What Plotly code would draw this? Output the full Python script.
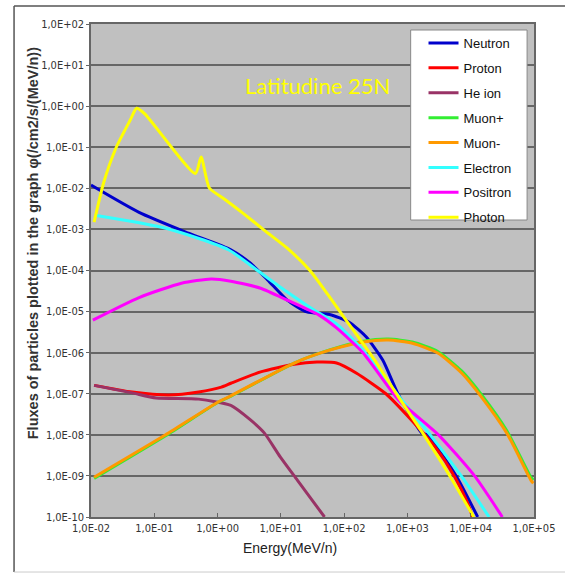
import plotly.graph_objects as go

# Energy (MeV/n) and flux (/cm2/s/(MeV/n)) for each particle species
neutron_e = [0.01, 0.0575, 0.347, 1.62, 3.31, 6.17, 12.6, 25.7, 58.9, 120, 224, 407, 724, 1700, 2040, 5890, 12900]
neutron_f = [1.2e-2, 2.6e-3, 8.1e-4, 3.2e-4, 1.5e-4, 5.9e-5, 1.9e-5, 9.8e-6, 8.5e-6, 5.5e-6, 2.4e-6, 6.6e-7, 9.3e-8, 1.1e-8, 1.0e-8, 1.0e-9, 1.0e-10]

proton_e = [0.0112, 0.0447, 0.17, 0.501, 1.15, 1.62, 4.79, 16.2, 37.2, 75.9, 155, 457, 1050, 2750, 5620, 8910, 10700]
proton_f = [1.6e-7, 1.1e-7, 9.3e-8, 1.1e-7, 1.45e-7, 1.8e-7, 3.4e-7, 5.2e-7, 5.9e-7, 5.6e-7, 3.2e-7, 1.0e-7, 2.7e-8, 5.0e-9, 9.3e-10, 2.2e-10, 1.0e-10]

he_e = [0.0112, 0.0447, 0.107, 0.501, 1.62, 3.31, 5.5, 9.77, 18.2, 49.0]
he_f = [1.6e-7, 1.05e-7, 7.9e-8, 7.4e-8, 5.2e-8, 2.3e-8, 1.1e-8, 2.9e-9, 7.9e-10, 1.0e-10]

muon_e = [0.0112, 0.151, 1.02, 1.48, 16.2, 58.9, 200, 501, 1200, 3020, 7240, 14800, 37200, 89100, 97700]
muon_plus_f = [8.7e-10, 9.5e-9, 6.2e-8, 8.1e-8, 5.6e-7, 1.17e-6, 1.9e-6, 2.14e-6, 1.82e-6, 1.07e-6, 3.55e-7, 9.5e-8, 1.26e-8, 9.3e-10, 7.9e-10]
muon_minus_f = [9.3e-10, 1.0e-8, 6.3e-8, 8.3e-8, 5.6e-7, 1.15e-6, 1.82e-6, 2.04e-6, 1.7e-6, 9.8e-7, 3.16e-7, 8.3e-8, 1.1e-8, 7.9e-10, 6.6e-10]

electron_e = [0.0115, 0.158, 1.48, 4.27, 12.6, 33.1, 75.9, 200, 724, 2290, 7080, 19500]
electron_f = [2.2e-3, 1.05e-3, 3.2e-4, 1.0e-4, 3.0e-5, 1.1e-5, 5.0e-6, 1.12e-6, 8.9e-8, 1.0e-8, 1.0e-9, 1.0e-10]

positron_e = [0.0107, 0.0575, 0.269, 0.794, 1.62, 4.79, 12.6, 40.7, 75.9, 200, 724, 3090, 11500, 31600]
positron_f = [6.2e-6, 2.2e-5, 4.9e-5, 6.2e-5, 5.5e-5, 3.7e-5, 1.9e-5, 8.1e-6, 4.0e-6, 9.8e-7, 7.1e-8, 1.0e-8, 1.0e-9, 1.0e-10]

photon_e = [0.0112, 0.0158, 0.0251, 0.0417, 0.0525, 0.0708, 0.447, 0.55, 0.741, 1.26, 2.51, 5.5, 12.6, 28.8, 56.2, 107, 282, 724, 1820, 4680, 11200]
photon_f = [1.5e-3, 1.35e-2, 0.1, 0.46, 0.89, 0.65, 2.3e-2, 5.8e-2, 1.02e-2, 5.6e-3, 2.5e-3, 9.5e-4, 3.5e-4, 1.0e-4, 2.5e-5, 6.2e-6, 7.8e-7, 8.3e-8, 1.0e-8, 1.0e-9, 1.0e-10]

series = [
    ("Neutron", neutron_e, neutron_f, "#0000CC"),
    ("Proton", proton_e, proton_f, "#FF0000"),
    ("He ion", he_e, he_f, "#993366"),
    ("Muon+", muon_e, muon_plus_f, "#33EE33"),
    ("Muon-", muon_e, muon_minus_f, "#FF9900"),
    ("Electron", electron_e, electron_f, "#33FFFF"),
    ("Positron", positron_e, positron_f, "#FF00FF"),
    ("Photon", photon_e, photon_f, "#FFFF00"),
]

x_tickvals = [1e-2, 1e-1, 1e0, 1e1, 1e2, 1e3, 1e4, 1e5]
x_ticktext = ["1,0E-02", "1,0E-01", "1,0E+00", "1,0E+01", "1,0E+02", "1,0E+03", "1,0E+04", "1,0E+05"]
y_tickvals = [1e-10, 1e-9, 1e-8, 1e-7, 1e-6, 1e-5, 1e-4, 1e-3, 1e-2, 1e-1, 1e0, 1e1, 1e2]
y_ticktext = ["1,0E-10", "1,0E-09", "1,0E-08", "1,0E-07", "1,0E-06", "1,0E-05", "1,0E-04",
              "1,0E-03", "1,0E-02", "1,0E-01", "1,0E+00", "1,0E+01", "1,0E+02"]

tick_font = dict(family="Liberation Sans Narrow, DejaVu Sans Condensed, Liberation Sans, Arial", size=11, color="#333333")

fig = go.Figure()
for i, (name, e, f, color) in enumerate(series):
    fig.add_trace(go.Scatter(
        x=e, y=f, name=name, mode="lines", legendgroup=f"g{i}",
        line=dict(color=color, width=3, shape="spline", smoothing=0.6),
    ))

# outer frame (left, top, bottom edges)
frame = dict(type="line", xref="paper", yref="paper", line=dict(color="#555555", width=1.5))
fig.add_shape(**frame, x0=-0.1737, x1=-0.1737, y0=-0.1116, y1=1.0365)
fig.add_shape(**frame, x0=-0.1737, x1=1.07, y0=1.0365, y1=1.0365)
fig.add_shape(type="line", xref="paper", yref="paper", x0=-0.1737, x1=1.07, y0=-0.1116, y1=-0.1116,
              line=dict(color="#cccccc", width=1))

# legend box
fig.add_shape(type="rect", xref="paper", yref="paper", layer="above",
              x0=0.7216, x1=0.9844, y0=0.6024, y1=0.9878,
              fillcolor="white", line=dict(color="#888888", width=1))

fig.add_annotation(text="Latitudine 25N", xref="paper", yref="paper", x=0.343, y=0.876,
                   xanchor="left", yanchor="middle", showarrow=False,
                   font=dict(family="Lato, Liberation Sans", size=22, color="#FFFF00"))
fig.add_annotation(text="Fluxes of particles plotted in the graph φ(/cm2/s/(MeV/n))",
                   xref="paper", yref="paper", x=-0.129, y=0.555, textangle=-90,
                   xanchor="center", yanchor="middle", showarrow=False,
                   font=dict(family="Liberation Sans, Arial", size=14.5, color="#333333", weight="bold"))
fig.add_annotation(text="Energy(MeV/n)", xref="paper", yref="paper", x=0.45, y=-0.063,
                   xanchor="center", yanchor="middle", showarrow=False,
                   font=dict(family="Liberation Sans Narrow, Liberation Sans, Arial", size=14, color="#222222"))

fig.update_layout(
    width=567, height=574,
    margin=dict(l=91, r=27, t=24, b=57),
    paper_bgcolor="white", plot_bgcolor="#C0C0C0",
    showlegend=True,
    legend=dict(x=0.7506, y=0.9919, xanchor="left", yanchor="top",
                bgcolor="rgba(0,0,0,0)", borderwidth=0,
                tracegroupgap=5, traceorder="grouped",
                font=dict(family="Liberation Sans Narrow, Liberation Sans, Arial", size=13, color="#111111")),
    xaxis=dict(type="log", range=[-2, 5], tickvals=x_tickvals, ticktext=x_ticktext,
               showgrid=False, zeroline=False, showline=True, linecolor="#666666", linewidth=1.5,
               mirror=True, ticks="inside", ticklen=4, tickcolor="#666666", tickfont=tick_font),
    yaxis=dict(type="log", range=[-10, 2], tickvals=y_tickvals, ticktext=y_ticktext,
               showgrid=True, gridcolor="#666666", gridwidth=1.5, zeroline=False,
               showline=True, linecolor="#666666", linewidth=1.5, mirror=True,
               ticks="outside", ticklen=3, tickcolor="#666666", tickfont=tick_font),
)

fig.write_html("out.html")
